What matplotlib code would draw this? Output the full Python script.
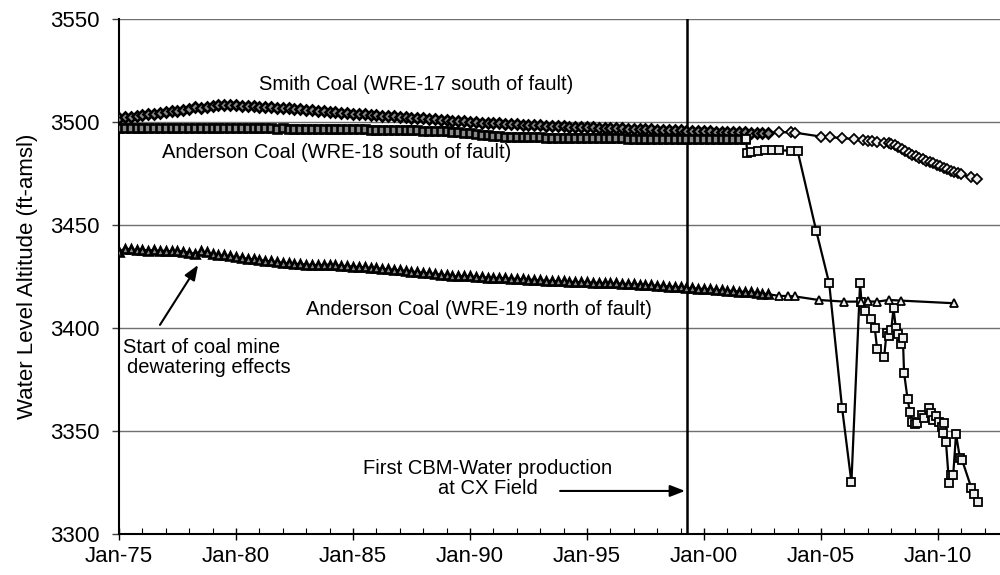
import matplotlib
matplotlib.use("Agg")
import matplotlib.pyplot as plt
from matplotlib.ticker import MultipleLocator, FixedLocator

plt.rcParams['font.family'] = ['Liberation Sans', 'DejaVu Sans']

# ---------------- data (decimal years, ft-amsl) ----------------
# quarterly readings of dense record, one row per year 1975..2002
dense_years = list(range(1975, 2003))

smith_dense = [
    3501.8, 3502.2, 3502.6, 3503.0,   # 1975
    3503.3, 3503.7, 3504.0, 3504.4,   # 1976
    3504.7, 3505.1, 3505.4, 3505.8,   # 1977
    3506.2, 3507.3, 3507.0, 3507.2,   # 1978
    3507.8, 3508.2, 3508.0, 3508.1,   # 1979
    3508.0, 3507.8, 3507.9, 3507.6,   # 1980
    3507.5, 3507.3, 3507.2, 3507.0,   # 1981
    3506.8, 3506.6, 3506.4, 3506.1,   # 1982
    3505.9, 3505.6, 3505.4, 3505.2,   # 1983
    3505.0, 3504.8, 3504.6, 3504.3,   # 1984
    3504.1, 3503.9, 3503.7, 3503.5,   # 1985
    3503.3, 3503.1, 3502.9, 3502.7,   # 1986
    3502.5, 3502.3, 3502.1, 3501.9,   # 1987
    3501.7, 3501.5, 3501.3, 3501.1,   # 1988
    3500.9, 3500.7, 3500.5, 3500.3,   # 1989
    3500.1, 3499.9, 3499.7, 3499.6,   # 1990
    3499.4, 3499.3, 3499.1, 3499.0,   # 1991
    3498.9, 3498.7, 3498.6, 3498.5,   # 1992
    3498.4, 3498.2, 3498.1, 3498.0,   # 1993
    3497.9, 3497.8, 3497.7, 3497.6,   # 1994
    3497.5, 3497.4, 3497.3, 3497.2,   # 1995
    3497.1, 3497.0, 3496.9, 3496.8,   # 1996
    3496.7, 3496.6, 3496.5, 3496.4,   # 1997
    3496.3, 3496.2, 3496.1, 3496.0,   # 1998
    3495.9, 3495.8, 3495.7, 3495.6,   # 1999
    3495.5, 3495.4, 3495.3, 3495.2,   # 2000
    3495.1, 3495.0, 3494.9, 3494.9,   # 2001
    3494.8, 3494.7, 3494.7, 3494.6,   # 2002
]
smith_late_t = [2003.2, 2003.7, 2003.9, 2005.0, 2005.4, 2005.9, 2006.4, 2006.8,
                2007.0, 2007.2, 2007.4, 2007.7, 2007.9, 2008.0, 2008.15, 2008.3,
                2008.45, 2008.6, 2008.75, 2008.9, 2009.05, 2009.2, 2009.35, 2009.5,
                2009.65, 2009.8, 2009.95, 2010.1, 2010.25, 2010.4, 2010.55, 2010.7,
                2010.85, 2011.0, 2011.4, 2011.65]
smith_late_v = [3495.0, 3495.0, 3494.8, 3492.9, 3492.6, 3492.2, 3491.7, 3491.3,
                3491.0, 3490.8, 3490.5, 3490.0, 3489.8, 3489.5, 3489.0, 3488.0,
                3487.0, 3486.0, 3485.0, 3484.2, 3483.4, 3482.6, 3481.9, 3481.2,
                3480.5, 3479.9, 3479.2, 3478.4, 3477.7, 3477.0, 3476.4, 3475.8,
                3475.2, 3474.6, 3473.2, 3472.3]

anderson18_dense = [
    3497.0, 3497.1, 3496.9, 3497.0,   # 1975
    3497.1, 3497.0, 3496.9, 3497.0,   # 1976
    3497.0, 3497.1, 3497.0, 3496.9,   # 1977
    3497.0, 3497.2, 3497.1, 3497.0,   # 1978
    3497.1, 3497.0, 3497.0, 3496.9,   # 1979
    3497.0, 3497.0, 3496.9, 3496.9,   # 1980
    3497.0, 3496.9, 3496.9, 3496.8,   # 1981
    3496.9, 3496.8, 3496.8, 3496.7,   # 1982
    3496.7, 3496.7, 3496.6, 3496.6,   # 1983
    3496.6, 3496.5, 3496.5, 3496.5,   # 1984
    3496.4, 3496.4, 3496.4, 3496.3,   # 1985
    3496.3, 3496.2, 3496.2, 3496.1,   # 1986
    3496.1, 3496.0, 3496.0, 3495.9,   # 1987
    3495.8, 3495.7, 3495.6, 3495.5,   # 1988
    3495.4, 3495.2, 3495.0, 3494.8,   # 1989
    3494.5, 3494.2, 3493.9, 3493.6,   # 1990
    3493.3, 3493.1, 3492.9, 3492.8,   # 1991
    3492.7, 3492.6, 3492.6, 3492.5,   # 1992
    3492.5, 3492.4, 3492.4, 3492.3,   # 1993
    3492.3, 3492.3, 3492.2, 3492.2,   # 1994
    3492.2, 3492.1, 3492.1, 3492.1,   # 1995
    3492.0, 3492.0, 3492.0, 3491.9,   # 1996
    3491.9, 3491.9, 3491.9, 3491.8,   # 1997
    3491.8, 3491.8, 3491.8, 3491.7,   # 1998
    3491.7, 3491.7, 3491.7, 3491.7,   # 1999
    3491.6, 3491.6, 3491.6, 3491.6,   # 2000
    3491.5, 3491.5, 3491.5, 3491.5,   # 2001
]
anderson18_late_t = [2001.8, 2001.85, 2002.0, 2002.3, 2002.6, 2002.9, 2003.2, 2003.7,
                     2004.0, 2004.8, 2005.35, 2005.9, 2006.3, 2006.67, 2006.73, 2006.9,
                     2007.15, 2007.3, 2007.4, 2007.7, 2007.8, 2007.9, 2008.0, 2008.1,
                     2008.2, 2008.3, 2008.4, 2008.5, 2008.55, 2008.7, 2008.8, 2008.9,
                     2009.0, 2009.1, 2009.3, 2009.4, 2009.6, 2009.7, 2009.8, 2009.9,
                     2010.05, 2010.15, 2010.25, 2010.2, 2010.34, 2010.47, 2010.54, 2010.65,
                     2010.77, 2010.94, 2011.03, 2011.43, 2011.53, 2011.72]
anderson18_late_v = [3491.5, 3485.0, 3485.2, 3486.0, 3486.5, 3486.5, 3486.3, 3486.0,
                     3486.0, 3447.0, 3421.7, 3361.3, 3325.1, 3421.7, 3412.8, 3408.3,
                     3404.2, 3399.8, 3389.7, 3385.8, 3397.7, 3396.1, 3399.0, 3409.5,
                     3399.8, 3396.9, 3392.2, 3395.3, 3378.3, 3365.5, 3359.4, 3354.5,
                     3353.2, 3354.0, 3357.8, 3356.2, 3361.3, 3358.9, 3355.3, 3357.3,
                     3354.5, 3352.1, 3354.0, 3348.9, 3344.8, 3324.9, 3328.6, 3328.6,
                     3348.4, 3336.7, 3335.9, 3322.2, 3319.4, 3315.7]

anderson19_dense = [
    3437.0, 3438.5, 3438.2, 3437.8,   # 1975
    3438.0, 3437.6, 3437.8, 3437.4,   # 1976
    3437.5, 3437.2, 3437.4, 3437.0,   # 1977
    3436.6, 3436.0, 3437.2, 3436.8,   # 1978
    3435.8, 3435.4, 3435.2, 3434.8,   # 1979
    3434.4, 3434.0, 3433.6, 3433.3,   # 1980
    3433.0, 3432.6, 3432.3, 3432.0,   # 1981
    3431.7, 3431.4, 3431.2, 3431.0,   # 1982
    3430.8, 3430.6, 3430.5, 3430.6,   # 1983
    3430.8, 3430.4, 3430.2, 3430.0,   # 1984
    3429.8, 3429.6, 3429.4, 3429.2,   # 1985
    3429.0, 3428.7, 3428.5, 3428.2,   # 1986
    3428.0, 3427.7, 3427.4, 3427.1,   # 1987
    3426.8, 3426.5, 3426.2, 3425.9,   # 1988
    3425.6, 3425.3, 3425.0, 3425.2,   # 1989
    3425.0, 3424.8, 3424.6, 3424.5,   # 1990
    3424.4, 3424.2, 3424.1, 3424.0,   # 1991
    3423.8, 3423.6, 3423.5, 3423.3,   # 1992
    3423.1, 3423.0, 3422.8, 3422.7,   # 1993
    3422.6, 3422.4, 3422.3, 3422.2,   # 1994
    3422.1, 3422.0, 3421.9, 3421.8,   # 1995
    3421.7, 3421.6, 3421.5, 3421.3,   # 1996
    3421.2, 3421.0, 3420.9, 3420.7,   # 1997
    3420.5, 3420.3, 3420.1, 3419.9,   # 1998
    3419.7, 3419.5, 3419.3, 3419.1,   # 1999
    3418.9, 3418.7, 3418.5, 3418.3,   # 2000
    3418.1, 3417.9, 3417.7, 3417.5,   # 2001
    3417.3, 3417.0, 3416.7, 3416.4,   # 2002
]
anderson19_late_t = [2003.2, 2003.6, 2003.9, 2004.9, 2006.0, 2006.7, 2007.0, 2007.4,
                     2007.9, 2008.4, 2010.7]
anderson19_late_v = [3415.6, 3415.5, 3415.3, 3413.6, 3412.8, 3412.8, 3412.9, 3412.8,
                     3413.6, 3413.3, 3412.0]

cbm_start = 1999.27
year_ticks = [1975, 1980, 1985, 1990, 1995, 2000, 2005, 2010]
year_labels = ["Jan-75", "Jan-80", "Jan-85", "Jan-90", "Jan-95", "Jan-00", "Jan-05", "Jan-10"]
y_ticks = [3300, 3350, 3400, 3450, 3500, 3550]


def expand(rows_years, vals):
    t = []
    for y in rows_years:
        for q in range(4):
            t.append(y + q * 0.25)
    return t[:len(vals)]


smith_dt = expand(dense_years, smith_dense)
a18_dt = expand(dense_years, anderson18_dense)
a19_dt = expand(dense_years, anderson19_dense)

# ---------------- figure ----------------
fig = plt.figure(figsize=(10, 5.75), dpi=100)
ax = fig.add_axes([0.119, 0.0713, 0.881, 0.8957])

ax.set_xlim(1975, 2012.65)
ax.set_ylim(3300, 3550)

ax.set_yticks(y_ticks)
ax.grid(axis='y', color='#707070', linewidth=1.0, zorder=0)
ax.set_axisbelow(True)

ax.axvline(cbm_start, color='black', linewidth=1.8, zorder=2)

line_kw = dict(color='black', linewidth=1.6, zorder=3)
sparse_kw = dict(linestyle='none', markerfacecolor='#eeeeee', markeredgecolor='black',
                 markeredgewidth=1.3, zorder=4)
dense_kw = dict(linestyle='none', markerfacecolor='#888888', markeredgecolor='black',
                markeredgewidth=1.9, zorder=4)

series = [
    (smith_dt, smith_dense, smith_late_t, smith_late_v, 'D', 4.8),
    (a18_dt, anderson18_dense, anderson18_late_t, anderson18_late_v, 's', 5.2),
    (a19_dt, anderson19_dense, anderson19_late_t, anderson19_late_v, '^', 5.4),
]
for dt, dv, lt, lv, m, ms in series:
    ax.plot(dt + lt, dv + lv, **line_kw)
    ax.plot(dt, dv, marker=m, markersize=ms + 0.6, **dense_kw)
    ax.plot(lt, lv, marker=m, markersize=ms, **sparse_kw)

# axes styling
for s in ['top', 'right']:
    ax.spines[s].set_visible(False)
ax.spines['left'].set_linewidth(1.5)
ax.spines['bottom'].set_linewidth(1.5)

ax.xaxis.set_major_locator(FixedLocator(year_ticks))
ax.set_xticklabels(year_labels)
ax.xaxis.set_minor_locator(MultipleLocator(1))
ax.tick_params(axis='x', which='major', direction='inout', length=9, width=1.0,
               labelsize=16, pad=4)
ax.tick_params(axis='x', which='minor', direction='in', length=4, width=0.8)
ax.tick_params(axis='y', which='major', direction='out', length=5, width=1.0,
               labelsize=16, pad=9, color='#404040')

ax.set_ylabel("Water Level Altitude (ft-amsl)", fontsize=16, labelpad=9)

# annotations
fs = 14.5
ax.text(1987.7, 3518, "Smith Coal (WRE-17 south of fault)", fontsize=fs,
        ha='center', va='center')
ax.text(1976.85, 3485, "Anderson Coal (WRE-18 south of fault)", fontsize=fs,
        ha='left', va='center')
ax.text(1990.4, 3409, "Anderson Coal (WRE-19 north of fault)", fontsize=fs,
        ha='center', va='center')
ax.text(1975.17, 3390.3, "Start of coal mine", fontsize=fs, ha='left', va='center')
ax.text(1975.35, 3381.0, "dewatering effects", fontsize=fs, ha='left', va='center')
ax.text(1990.77, 3332.0, "First CBM-Water production", fontsize=fs,
        ha='center', va='center')
ax.text(1990.77, 3322.3, "at CX Field", fontsize=fs, ha='center', va='center')

arrow = dict(arrowstyle='-|>,head_length=0.9,head_width=0.35', color='black',
             linewidth=1.5, shrinkA=0, shrinkB=0)
ax.annotate("", xy=(1978.38, 3430.6), xytext=(1976.75, 3401.5), arrowprops=arrow)
ax.annotate("", xy=(1999.19, 3320.9), xytext=(1993.85, 3320.9), arrowprops=arrow)

fig.savefig("out.png", dpi=100)
